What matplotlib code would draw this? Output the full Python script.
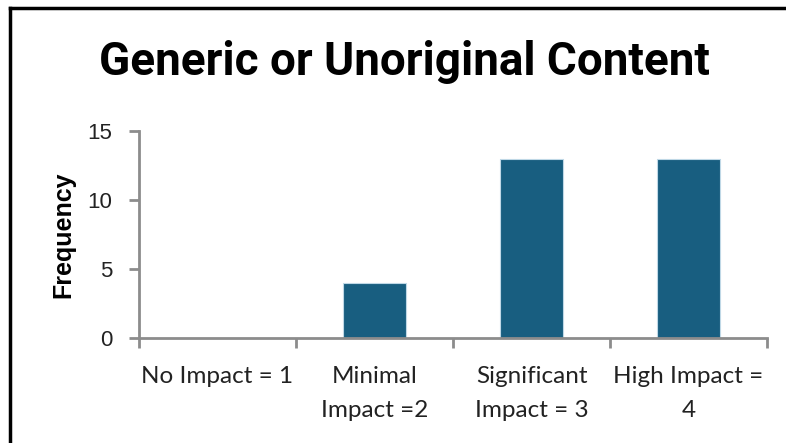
import matplotlib
matplotlib.use("Agg")
import matplotlib.pyplot as plt
from matplotlib.lines import Line2D

categories = ["No Impact = 1", "Minimal\nImpact =2", "Significant\nImpact = 3", "High Impact =\n4"]
frequency = [0, 4, 13, 13]
y_ticks = [0, 5, 10, 15]

bar_color = "#185E80"
axis_color = "#8C8C8C"
text_color = "#222222"

fig = plt.figure(figsize=(7.86, 4.43), dpi=100)
ax = fig.add_axes([139 / 786, 1 - 338 / 443, 628 / 786, 207 / 443])

x = list(range(len(categories)))
ax.bar(x, frequency, width=0.4, color=bar_color, edgecolor="#BFD8E6", linewidth=0.8, zorder=2)

ax.set_xlim(-0.5, len(categories) - 0.5)
ax.set_ylim(0, 15)
ax.set_yticks(y_ticks)
ax.set_yticklabels([str(v) for v in y_ticks], fontfamily="Liberation Sans", fontsize=16, color=text_color)

# category boundaries carry the tick marks, labels sit at category centres
ax.set_xticks([i - 0.5 for i in range(len(categories) + 1)])
ax.set_xticklabels([])
ax.set_xticks(x, minor=True)
ax.set_xticklabels(categories, minor=True, fontfamily="Lato", fontsize=17.5, color=text_color, linespacing=1.75)
ax.tick_params(axis="x", which="minor", length=0, pad=20)
ax.tick_params(axis="x", which="major", length=7, width=2, color=axis_color)
ax.tick_params(axis="y", length=7, width=2, color=axis_color, pad=12)

for side in ["top", "right"]:
    ax.spines[side].set_visible(False)
for side in ["left", "bottom"]:
    ax.spines[side].set_color(axis_color)
    ax.spines[side].set_linewidth(2)

ax.set_ylabel("Frequency", fontfamily="Liberation Sans", fontweight="bold", fontsize=18, labelpad=9)

fig.text(0.514, 0.86, "Generic or Unoriginal Content", ha="center", va="center",
         fontfamily="Roboto", fontweight="bold", fontsize=33)

# chart frame: top and left edges
fig.add_artist(Line2D([10 / 786, 1], [1 - 8 / 443, 1 - 8 / 443], transform=fig.transFigure, color="black", linewidth=2.5))
fig.add_artist(Line2D([10 / 786, 10 / 786], [0, 1 - 8 / 443], transform=fig.transFigure, color="black", linewidth=2.5))

fig.savefig("out.png", dpi=100, facecolor="white")
